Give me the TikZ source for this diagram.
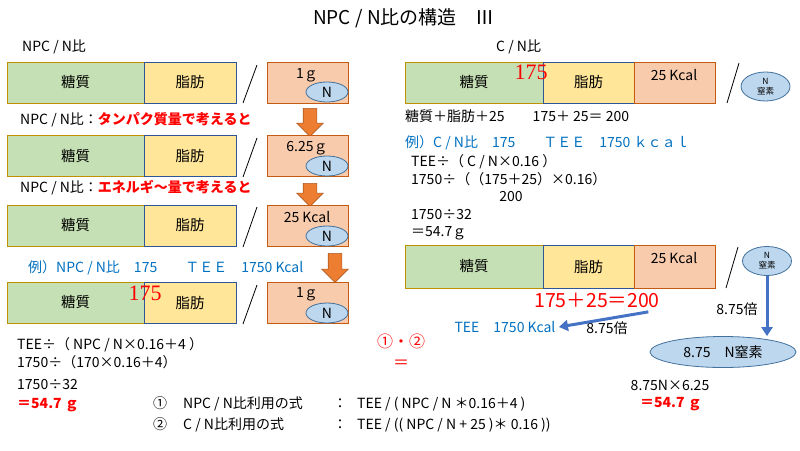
\documentclass[tikz,border=0pt]{standalone}
\usepackage{fontspec}
\setmainfont{Noto Sans CJK JP}
\newfontfamily\numserif{Liberation Serif}
\usetikzlibrary{shapes.geometric,shapes.arrows,arrows.meta}
\definecolor{carbofill}{HTML}{C5E0B4}
\definecolor{carboline}{HTML}{BF9000}
\definecolor{fatfill}{HTML}{FFE699}
\definecolor{fatline}{HTML}{2F5597}
\definecolor{nfill}{HTML}{F8CBAD}
\definecolor{nline}{HTML}{C55A11}
\definecolor{ellfill}{HTML}{BDD7EE}
\definecolor{ellline}{HTML}{41719C}
\definecolor{arrfill}{HTML}{ED7D31}
\definecolor{arrline}{HTML}{AE5A21}
\definecolor{exblue}{HTML}{0070C0}
\definecolor{linkblue}{HTML}{4472C4}
\tikzset{
  carbo/.style={draw=carboline,fill=carbofill,line width=0.8pt,minimum height=41pt,inner sep=0pt,font=\fontsize{14.5}{16}\selectfont},
  fat/.style={draw=fatline,fill=fatfill,line width=0.8pt,minimum height=41pt,inner sep=0pt,font=\fontsize{14.5}{16}\selectfont},
  nbox/.style={draw=nline,fill=nfill,line width=0.8pt,minimum width=81pt,minimum height=41pt,inner sep=0pt},
  nell/.style={ellipse,draw=ellline,fill=ellfill,line width=0.8pt,minimum width=42pt,minimum height=20pt,inner sep=0pt},
  nsmall/.style={ellipse,draw=ellline,fill=ellfill,line width=0.8pt,minimum width=49pt,minimum height=29pt,inner sep=0pt,align=center,font=\fontsize{8.5}{10}\selectfont},
  downarr/.style={single arrow,shape border rotate=270,draw=arrline,fill=arrfill,line width=0.6pt,inner sep=6.5pt,single arrow head extend=6.5pt,single arrow tip angle=90},
  slash/.style={line width=0.8pt},
  txt/.style={anchor=west,inner sep=0pt},
  bluelink/.style={draw=linkblue,line width=3pt,-{Triangle[length=9pt,width=11pt]}}
}
\begin{document}
\begin{tikzpicture}[x=1pt,y=-1pt,font=\fontsize{14}{16}\selectfont]
    \useasboundingbox (0,0) rectangle (800,450);
    \node (title) at (404,18) {\fontsize{19}{21}\selectfont NPC / N比の構造　Ⅲ};

    \node[txt] (npcn) at (22,47) {NPC / N比};
    \node[carbo,minimum width=137pt] (C1) at (75.5,82.5) {糖質};
    \node[fat,minimum width=92pt] (F1) at (190,82.5) {脂肪};
    \node[nbox] (B1) at (307.5,82.5) {};
    \node (G1) at (307,75) {1ｇ};
    \node[nell] (N1) at (327,92) {N};
    \draw[slash] (257,65) -- (243,103);

    \node[txt] (lab1) at (20,120) {NPC / N比：\textcolor{red}{\bfseries タンパク質量で考えると}};
    \node[downarr,minimum height=28pt] (A1) at (310,119) {};

    \node[carbo,minimum width=137pt] (C2) at (75.5,156) {糖質};
    \node[fat,minimum width=92pt] (F2) at (190,156) {脂肪};
    \node[nbox] (B2) at (307.5,156) {};
    \node (G2) at (307,148) {6.25ｇ};
    \node[nell] (N2) at (327,166) {N};
    \draw[slash] (257,138) -- (243,177);

    \node[txt] (lab2) at (20,188) {NPC / N比：\textcolor{red}{\bfseries エネルギ～量で考えると}};
    \node[downarr,minimum height=23pt] (A2) at (310,191.5) {};

    \node[carbo,minimum width=137pt] (C3) at (75.5,225.5) {糖質};
    \node[fat,minimum width=92pt] (F3) at (190,225.5) {脂肪};
    \node[nbox] (B3) at (307.5,225.5) {};
    \node (G3) at (307,217) {25 Kcal};
    \node[nell] (N3) at (327,236) {N};
    \draw[slash] (257,207) -- (243,247);

    \node[txt,text=exblue] (ex1) at (28,268) {例）NPC / N比　175　　ＴＥＥ　1750 Kcal};
    \node[downarr,minimum height=29pt] (A3) at (335,264.5) {};

    \node[carbo,minimum width=137pt] (C4) at (75.5,302.5) {糖質};
    \node[fat,minimum width=92pt] (F4) at (190,302.5) {脂肪};
    \node[nbox] (B4) at (307.5,302.5) {};
    \node (G4) at (307,294) {1ｇ};
    \node[nell] (N4) at (327,313) {N};
    \draw[slash] (257,285) -- (243,324);
    \node[text=red] (v4) at (145,293) {\numserif\fontsize{22}{24}\selectfont 175};

    \node[txt] (e1) at (17,345) {TEE÷（ NPC / N×0.16＋4 ）};
    \node[txt] (e2) at (17,362) {1750÷（170×0.16＋4）};
    \node[txt] (e3) at (17,385) {1750÷32};
    \node[txt,text=red] (e4) at (17,405) {\bfseries ＝54.7 ｇ};

    \node[text=red] (both) at (401,341) {\fontsize{16}{18}\selectfont ①・②};
    \node[text=red] (eq) at (401,364) {\fontsize{16}{18}\selectfont ＝};

    \node[txt] (f1) at (153,404) {\makebox[30pt][l]{①}\makebox[150pt][l]{NPC / N比利用の式}\makebox[24pt][l]{：}TEE / ( NPC / N ＊0.16＋4 )};
    \node[txt] (f2) at (153,425) {\makebox[30pt][l]{②}\makebox[150pt][l]{C / N比利用の式}\makebox[24pt][l]{：}TEE / (( NPC / N + 25 )＊ 0.16 ))};

    \node[txt] (cn) at (496,47) {C / N比};
    \node[carbo,minimum width=138pt] (RC1) at (474,82.5) {糖質};
    \node[fat,minimum width=91pt] (RF1) at (588.5,82.5) {脂肪};
    \node[nbox] (RB1) at (674.5,82.5) {};
    \node (RG1) at (674,75) {25 Kcal};
    \node[text=red] (rv1) at (531,72) {\numserif\fontsize{22}{24}\selectfont 175};
    \draw[slash] (739,63) -- (727,103);
    \node[nsmall] (NR1) at (765.5,86.5) {N\\窒素};

    \node[txt] (r1) at (405,116) {糖質＋脂肪＋25　　175＋ 25＝ 200};
    \node[txt,text=exblue] (ex2) at (405,143) {例）C / N比　175　　ＴＥＥ　1750 ｋｃａｌ};
    \node[txt] (r2) at (411,162) {TEE÷（ C / N×0.16 ）};
    \node[txt] (r3) at (411,179) {1750÷（（175＋25）×0.16）};
    \node (r4) at (511,197) {200};
    \node[txt] (r5) at (411,215) {1750÷32};
    \node[txt] (r6) at (411,233) {＝54.7ｇ};

    \node[carbo,minimum width=138pt,minimum height=43pt] (RC2) at (474,266.5) {糖質};
    \node[fat,minimum width=91pt,minimum height=43pt] (RF2) at (588.5,266.5) {脂肪};
    \node[nbox,minimum height=43pt] (RB2) at (674.5,266.5) {};
    \node (RG2) at (674,258) {25 Kcal};
    \draw[slash] (738,247) -- (726,288);
    \node[nsmall] (NR2) at (767,261) {N\\窒素};

    \node[text=red] (total) at (597,300) {\fontsize{19.5}{22}\selectfont 175＋25＝200};
    \node[text=exblue] (tee) at (505,327) {TEE　1750 Kcal};
    \node (x1) at (607,328) {8.75倍};
    \node (x2) at (737,309) {8.75倍};
    \node[ellipse,draw=ellline,fill=ellfill,line width=0.8pt,minimum width=146pt,minimum height=31pt,inner sep=0pt] (big) at (723,352) {8.75　N窒素};
    \node (r7) at (670,385) {8.75N×6.25};
    \node[text=red] (r8) at (671,404) {\bfseries ＝54.7 ｇ};

    \draw[bluelink] ([xshift=-15pt,yshift=-1pt]total.south east) -- (tee.east);
    \draw[bluelink] (NR2.south) -- (NR2.south |- big.north);
\end{tikzpicture}
\end{document}
